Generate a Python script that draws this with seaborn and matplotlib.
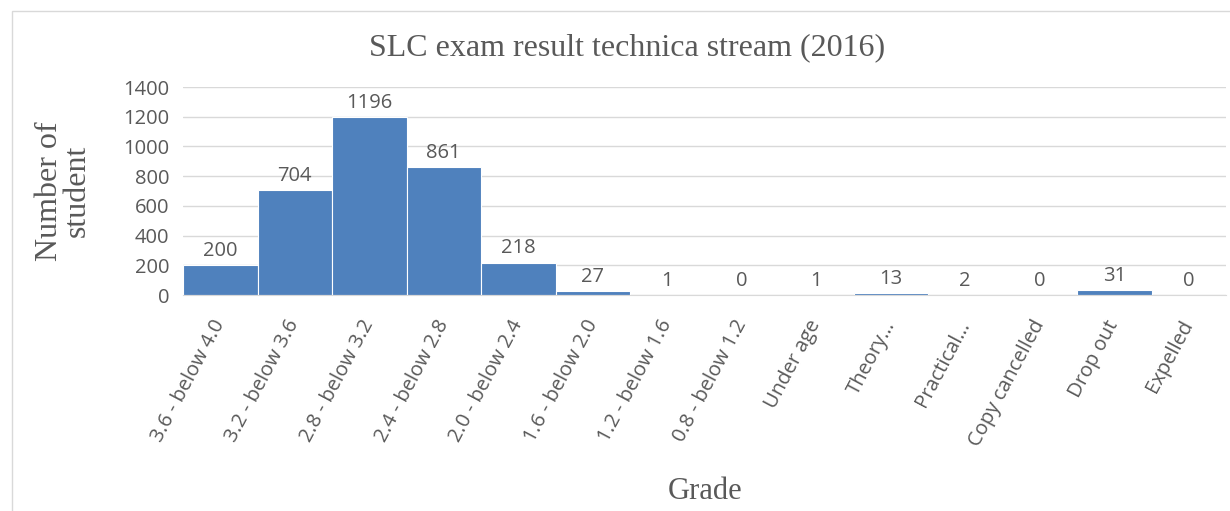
import matplotlib
matplotlib.use("Agg")
import matplotlib.pyplot as plt
import seaborn as sns
import pandas as pd
from matplotlib.patches import Rectangle

categories = ["3.6 - below 4.0", "3.2 - below 3.6", "2.8 - below 3.2", "2.4 - below 2.8",
              "2.0 - below 2.4", "1.6 - below 2.0", "1.2 - below 1.6", "0.8 - below 1.2",
              "Under age", "Theory…", "Practical…", "Copy cancelled", "Drop out", "Expelled"]
students = [200, 704, 1196, 861, 218, 27, 1, 0, 1, 13, 2, 0, 31, 0]
yticks = [0, 200, 400, 600, 800, 1000, 1200, 1400]

sns.set_style("white")
plt.rcParams['font.family'] = ['Open Sans', 'DejaVu Sans']

df = pd.DataFrame({"Grade": categories, "Students": students})

W, H = 1230, 511
fig = plt.figure(figsize=(W / 100, H / 100), dpi=100)
ax = fig.add_axes([183 / W, 1 - 295 / H, (1226 - 183) / W, (295 - 87) / H])

sns.barplot(data=df, x="Grade", y="Students", color="#4F81BD", width=1.0,
            edgecolor="white", linewidth=0.8, saturation=1, ax=ax)

ax.set_ylim(0, 1400)
ax.set_xlim(-0.5, len(categories) - 0.5)
ax.set_yticks(yticks)
ax.set_yticklabels([str(t) for t in yticks], fontsize=14.5, color="#595959")
ax.yaxis.grid(True, color="#D9D9D9", linewidth=1)
ax.set_axisbelow(True)
for s in ["top", "right", "left"]:
    ax.spines[s].set_visible(False)
ax.spines["bottom"].set_color("#D9D9D9")
ax.tick_params(axis="both", length=0)
ax.tick_params(axis="y", pad=10)

ax.set_xticks(range(len(categories)))
ax.set_xticklabels(categories, rotation=62, ha="right", va="center",
                   rotation_mode="anchor", fontsize=14.5, color="#595959")
ax.tick_params(axis="x", pad=19)

for i, v in enumerate(students):
    ax.annotate(str(v), (i, v), xytext=(0, 3), textcoords="offset points",
                ha="center", va="bottom", fontsize=14.5, color="#595959")

ax.set_xlabel("Grade", fontsize=22, family="Liberation Serif", color="#595959")
ax.xaxis.set_label_coords((705 - 183) / (1226 - 183), -(491 - 295) / (295 - 87))
ax.xaxis.label.set_va("center")
ax.set_ylabel("Number of\nstudent", fontsize=23, family="Liberation Serif",
              color="#595959", linespacing=0.95)
ax.yaxis.set_label_coords(-(183 - 63) / (1226 - 183), 0.5)
ax.yaxis.label.set_va("center")

fig.text(627 / W, 1 - 48 / H, "SLC exam result technica stream (2016)", ha="center",
         va="center", fontsize=23, family="Liberation Serif", color="#595959")

fig.patches.append(Rectangle((12 / W, -0.1), 1.2, 1 - 11 / H + 0.1, transform=fig.transFigure,
                             fill=False, edgecolor="#D9D9D9", linewidth=1))

fig.savefig("out.png", dpi=100)
